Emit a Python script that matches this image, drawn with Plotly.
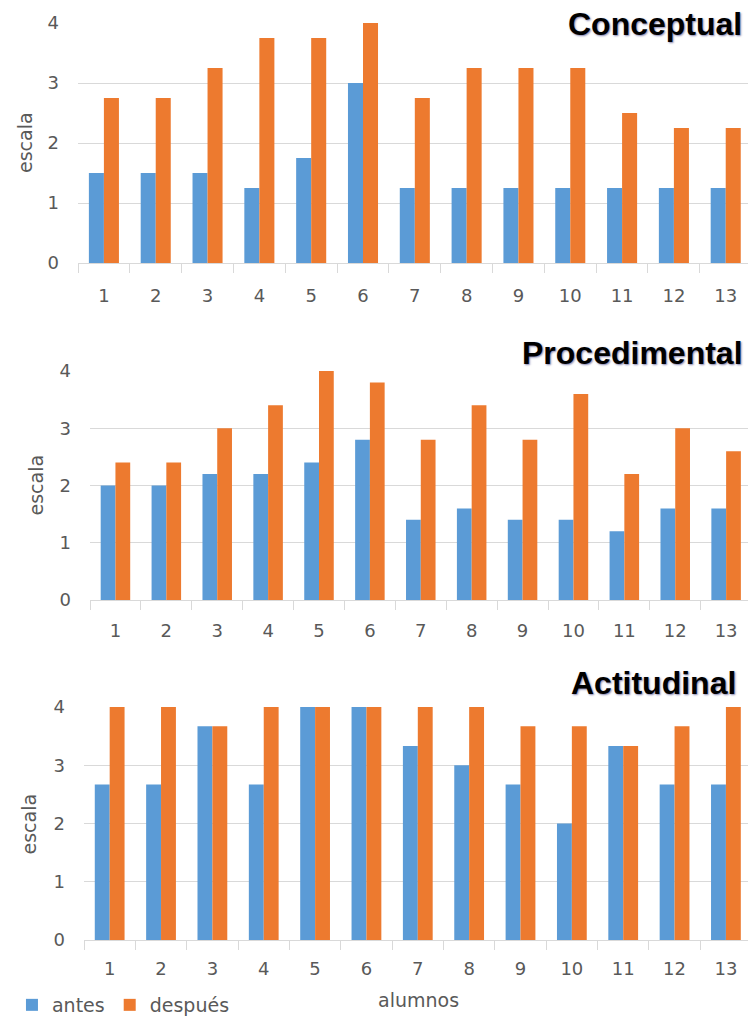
import plotly.graph_objects as go

# Students on the x axis
alumnos = [str(i) for i in range(1, 14)]

# Scores before ("antes") and after ("después") for each dimension
conceptual_antes = [1.5, 1.5, 1.5, 1.25, 1.75, 3.0, 1.25, 1.25, 1.25, 1.25, 1.25, 1.25, 1.25]
conceptual_despues = [2.75, 2.75, 3.25, 3.75, 3.75, 4.0, 2.75, 3.25, 3.25, 3.25, 2.5, 2.25, 2.25]

procedimental_antes = [2.0, 2.0, 2.2, 2.2, 2.4, 2.8, 1.4, 1.6, 1.4, 1.4, 1.2, 1.6, 1.6]
procedimental_despues = [2.4, 2.4, 3.0, 3.4, 4.0, 3.8, 2.8, 3.4, 2.8, 3.6, 2.2, 3.0, 2.6]

actitudinal_antes = [2.67, 2.67, 3.67, 2.67, 4.0, 4.0, 3.33, 3.0, 2.67, 2.0, 3.33, 2.67, 2.67]
actitudinal_despues = [4.0, 4.0, 3.67, 4.0, 4.0, 4.0, 4.0, 4.0, 3.67, 3.67, 3.33, 3.67, 4.0]

y_ticks = [0, 1, 2, 3, 4]

W, H = 748, 1017
BLUE = "#5b9bd6"
ORANGE = "#ed7a2f"
GRID = "#d9d9d9"
TEXT = "#595959"
FONT = "DejaVu Sans"

# Per panel: title, data, and pixel layout (left, top, bottom, y-title x, title y, title right, tick standoff)
panels = [
    ("Conceptual", conceptual_antes, conceptual_despues, 78, 23, 263, 25, 24, 744, 16),
    ("Procedimental", procedimental_antes, procedimental_despues, 90, 371, 600, 35, 353, 745, 14),
    ("Actitudinal", actitudinal_antes, actitudinal_despues, 84, 707, 940, 28, 683, 738, 12),
]

fig = go.Figure()
annotations = []
layout_axes = {}

for i, (title, antes, despues, left, top, bottom, ytx, tty, ttx, xstand) in enumerate(panels):
    suffix = "" if i == 0 else str(i + 1)
    xa, ya = "x" + suffix, "y" + suffix
    fig.add_trace(go.Bar(
        x=alumnos, y=antes, name="antes", marker=dict(color=BLUE, line=dict(width=0)),
        xaxis=xa, yaxis=ya, legendgroup="antes", showlegend=(i == 0),
    ))
    fig.add_trace(go.Bar(
        x=alumnos, y=despues, name="después", marker=dict(color=ORANGE, line=dict(width=0)),
        xaxis=xa, yaxis=ya, legendgroup="despues", showlegend=(i == 0),
    ))

    layout_axes["xaxis" + suffix] = dict(
        domain=[left / W, 1.0], anchor=ya, type="category",
        range=[-0.5, 12.43], tickson="boundaries", ticks="outside", ticklen=9,
        tickcolor=GRID, showline=True, linecolor=GRID, linewidth=1,
        showgrid=False, tickfont=dict(family=FONT, size=18, color=TEXT),
        ticklabelstandoff=xstand, fixedrange=True,
    )
    layout_axes["yaxis" + suffix] = dict(
        domain=[1 - bottom / H, 1 - top / H], anchor=xa, range=[0, 4],
        tickvals=y_ticks, showgrid=True, gridcolor=GRID, gridwidth=1,
        zeroline=False, showline=False, ticks="",
        tickfont=dict(family=FONT, size=18, color=TEXT),
        ticklabelstandoff=18, fixedrange=True,
    )

    # Panel heading at the top right
    annotations.append(dict(
        text=title, xref="paper", yref="paper", x=ttx / W, y=1 - tty / H,
        xanchor="right", yanchor="middle", showarrow=False, bgcolor="white",
        font=dict(family="Liberation Sans", size=32, color="black", weight="bold",
                  shadow="1px 1px 2px rgba(30,30,110,0.55)"),
    ))
    # Y axis title
    annotations.append(dict(
        text="escala", xref="paper", yref="paper", x=ytx / W,
        y=1 - (top + bottom) / 2 / H, textangle=-90, showarrow=False,
        xanchor="center", yanchor="middle",
        font=dict(family=FONT, size=19, color=TEXT),
    ))

annotations.append(dict(
    text="alumnos", xref="paper", yref="paper", x=418 / W, y=1 - 1000 / H,
    xanchor="center", yanchor="middle", showarrow=False,
    font=dict(family=FONT, size=19, color=TEXT),
))

fig.update_layout(
    width=W, height=H, margin=dict(l=0, r=0, t=0, b=0, autoexpand=False),
    paper_bgcolor="white", plot_bgcolor="white",
    barmode="group", bargap=0.42, bargroupgap=0.0,
    annotations=annotations,
    legend=dict(
        orientation="h", x=0.016, y=1 - 1005 / H, xanchor="left", yanchor="middle",
        font=dict(family=FONT, size=19, color=TEXT), itemwidth=30,
        bgcolor="rgba(0,0,0,0)",
    ),
    **layout_axes,
)

fig.write_html("out.html")
